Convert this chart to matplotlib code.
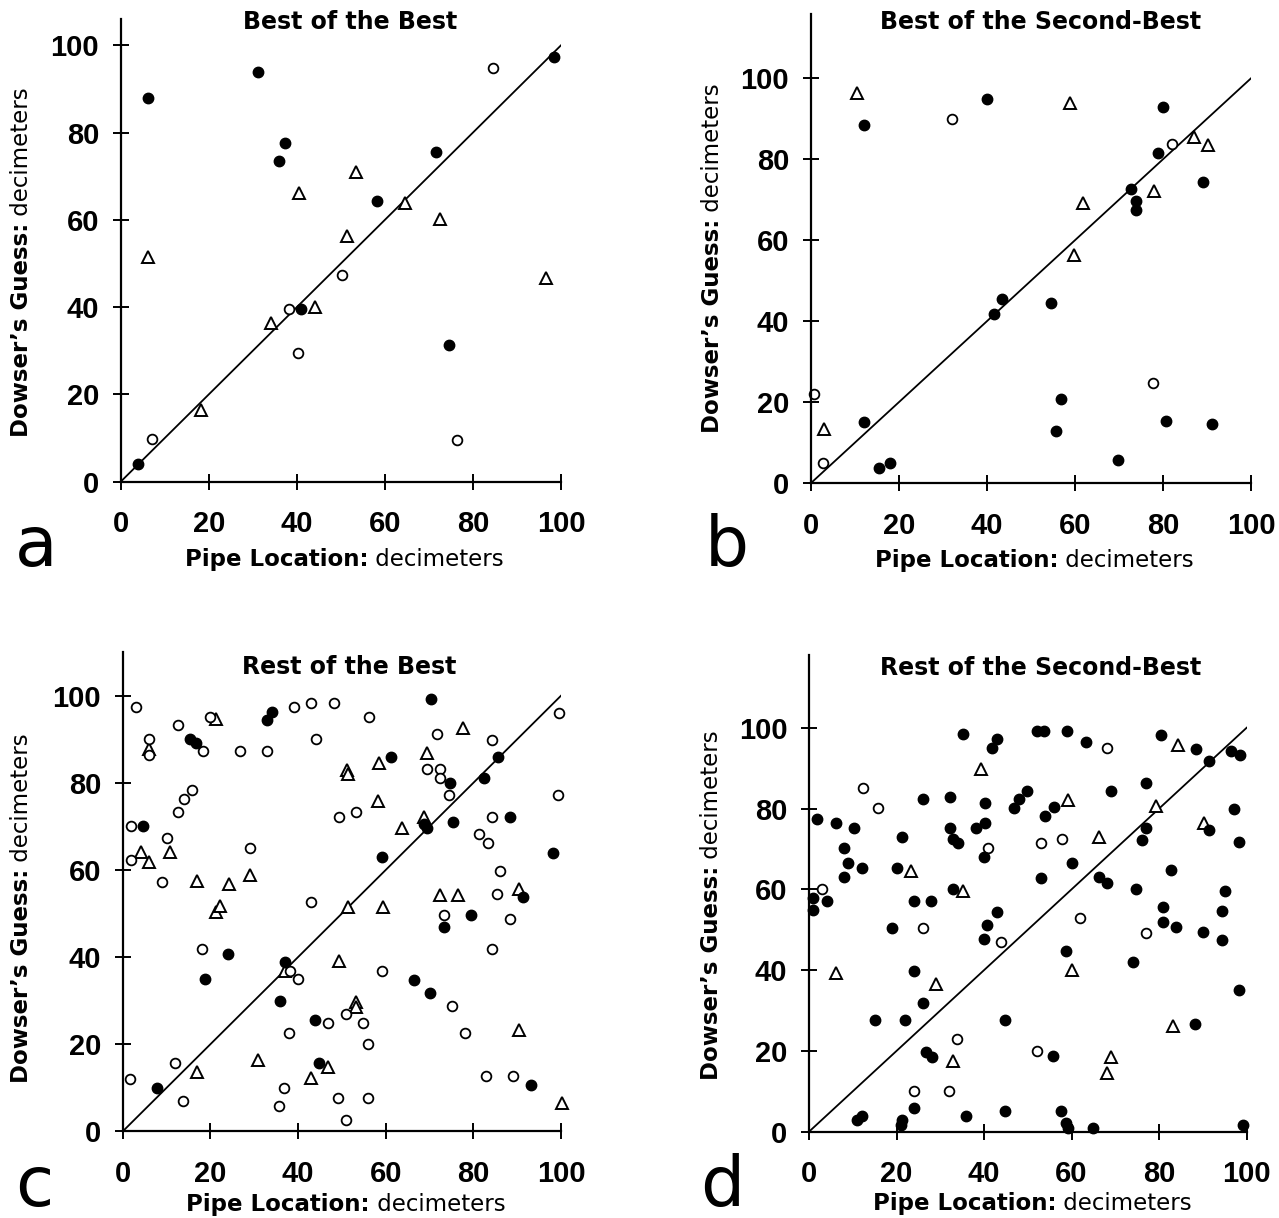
import matplotlib
matplotlib.use("Agg")
import matplotlib.pyplot as plt

# guesses vs. true pipe location, in decimeters
a_solid_x = [4.0, 6.2, 31.1, 36.0, 37.3, 41.0, 58.1, 71.6, 74.5, 98.4]
a_solid_y = [4.0, 87.9, 93.8, 73.6, 77.7, 39.6, 64.3, 75.5, 31.3, 97.4]
a_open_x = [7.0, 38.3, 40.2, 50.2, 76.3, 84.5]
a_open_y = [9.8, 39.6, 29.6, 47.4, 9.5, 94.7]
a_tri_x = [6.3, 18.2, 34.2, 40.4, 44.1, 51.5, 53.4, 64.6, 72.5, 96.7]
a_tri_y = [51.4, 16.4, 36.3, 66.1, 40.1, 56.3, 70.9, 63.9, 60.1, 46.7]

b_solid_x = [12.1, 40.0, 80.1, 78.8, 89.0, 72.7, 73.8, 73.8, 43.5, 41.6,
             54.6, 56.9, 55.6, 69.7, 80.7, 91.1, 12.1, 15.6, 17.9]
b_solid_y = [88.5, 94.9, 93.0, 81.6, 74.5, 72.7, 69.7, 67.5, 45.5, 41.7,
             44.6, 20.8, 12.9, 5.8, 15.4, 14.6, 15.1, 3.8, 4.9]
b_open_x = [32.1, 82.1, 77.7, 0.8, 2.8]
b_open_y = [90.0, 83.8, 24.8, 22.0, 5.0]
b_tri_x = [10.6, 59.0, 87.1, 90.3, 78.0, 61.9, 59.9, 3.0]
b_tri_y = [96.3, 94.0, 85.6, 83.5, 72.2, 69.3, 56.4, 13.4]

c_solid_x = [4.7, 15.4, 16.8, 32.9, 34.1, 70.4, 61.3, 85.7, 74.7, 82.4,
             68.7, 69.4, 75.3, 88.4, 59.1, 98.2, 91.4, 79.5, 73.4, 66.5,
             70.1, 93.1, 24.1, 37.0, 18.8, 35.9, 43.9, 44.9, 7.8]
c_solid_y = [70.0, 90.0, 89.2, 94.4, 96.3, 99.2, 86.0, 86.0, 80.0, 81.0,
             70.5, 69.6, 70.9, 72.2, 63.0, 64.0, 53.7, 49.7, 46.8, 34.7,
             31.7, 10.6, 40.7, 38.8, 34.9, 29.9, 25.6, 15.8, 10.0]
c_open_x = [3.0, 12.7, 19.9, 5.9, 5.9, 18.3, 26.8, 32.9, 39.1, 43.0,
            48.2, 44.0, 15.8, 14.0, 12.7, 49.3, 1.8, 10.1, 1.8, 29.0,
            8.9, 43.0, 56.3, 99.5, 71.6, 84.3, 69.4, 72.4, 72.4, 74.5,
            99.4, 53.2, 84.3, 81.3, 83.3, 86.1, 85.3, 73.4, 88.4, 84.2,
            59.1, 75.2, 54.8, 56.0, 78.1, 82.9, 89.0, 56.0, 18.0, 38.2,
            40.1, 46.9, 50.9, 38.0, 11.9, 1.7, 13.8, 36.8, 35.7, 49.1, 50.9]
c_open_y = [97.5, 93.3, 95.0, 90.1, 86.3, 87.4, 87.4, 87.4, 97.5, 98.3,
            98.3, 90.1, 78.4, 76.3, 73.2, 72.2, 70.0, 67.4, 62.3, 65.0,
            57.2, 52.7, 95.0, 96.1, 91.2, 89.8, 83.1, 83.1, 81.0, 77.2,
            77.2, 73.2, 72.2, 68.2, 66.1, 59.8, 54.6, 49.7, 48.7, 41.8,
            36.8, 28.8, 24.9, 20.0, 22.5, 12.7, 12.7, 7.6, 41.9, 36.8,
            34.9, 24.9, 26.9, 22.5, 15.8, 12.0, 7.0, 9.9, 5.8, 7.6, 2.6]
c_tri_x = [21.3, 6.1, 51.2, 51.5, 4.2, 10.9, 6.1, 17.0, 24.3, 29.1,
           21.3, 22.2, 51.3, 77.7, 69.5, 58.5, 58.3, 68.7, 63.7, 72.4,
           76.6, 90.5, 59.5, 37.0, 49.4, 53.2, 53.2, 30.9, 46.9, 43.0,
           16.9, 90.4, 100.2]
c_tri_y = [94.7, 87.8, 83.0, 82.0, 64.1, 64.1, 61.9, 57.5, 56.8, 58.8,
           50.4, 51.7, 51.6, 92.7, 86.9, 84.6, 75.9, 72.2, 69.6, 54.3,
           54.3, 55.6, 51.6, 36.7, 39.2, 29.8, 28.6, 16.4, 14.8, 12.3,
           13.6, 23.3, 6.6]

d_solid_x = [35.1, 43.0, 41.9, 26.1, 32.2, 40.2, 46.8, 48.0, 49.7, 1.8,
             6.1, 10.3, 21.3, 32.2, 32.9, 34.0, 38.1, 40.2, 40.0, 8.0,
             9.0, 12.2, 8.0, 20.0, 32.8, 0.8, 0.8, 4.0, 24.0, 27.9,
             43.0, 40.7, 18.9, 52.0, 53.7, 59.0, 63.2, 80.4, 88.5, 91.4,
             96.3, 98.4, 68.9, 77.1, 55.9, 54.0, 77.1, 76.0, 97.1, 91.4,
             98.2, 60.0, 52.9, 66.3, 68.0, 82.8, 74.8, 95.1, 80.9, 94.4,
             80.9, 83.9, 90.0, 94.4, 58.8, 74.1, 98.2, 88.2, 55.8, 57.5,
             58.7, 59.2, 64.8, 99.2, 40.0, 24.0, 26.0, 15.1, 21.9, 44.7,
             26.7, 28.0, 24.0, 44.7, 35.8, 10.9, 12.0, 21.2, 21.0]
d_solid_y = [98.4, 97.1, 95.0, 82.3, 82.9, 81.4, 80.2, 82.3, 84.4, 77.3,
             76.5, 75.2, 73.0, 75.2, 72.4, 71.4, 75.2, 76.5, 67.9, 70.1,
             66.4, 65.2, 63.0, 65.2, 60.1, 57.9, 55.0, 57.1, 57.1, 57.1,
             54.3, 51.2, 50.3, 99.3, 99.3, 99.3, 96.4, 98.2, 94.7, 91.8,
             94.3, 93.2, 84.4, 86.4, 80.3, 78.1, 75.2, 72.2, 80.0, 74.7,
             71.8, 66.4, 62.9, 63.1, 61.5, 64.8, 60.1, 59.7, 55.5, 54.6,
             52.0, 50.7, 49.5, 47.5, 44.8, 41.9, 35.1, 26.6, 18.7, 5.1,
             2.2, 1.0, 0.8, 1.7, 47.7, 39.8, 31.8, 27.6, 27.6, 27.6,
             19.8, 18.6, 5.8, 5.1, 3.9, 2.9, 3.9, 2.9, 1.7]
d_open_x = [12.3, 15.8, 40.9, 2.9, 26.0, 68.1, 52.9, 57.7, 61.9, 76.9,
            52.0, 43.8, 33.9, 24.0, 32.0]
d_open_y = [85.0, 80.2, 70.1, 60.1, 50.3, 95.0, 71.4, 72.4, 52.8, 49.1,
            20.0, 47.0, 22.9, 10.1, 10.1]
d_tri_x = [39.2, 23.3, 35.2, 84.4, 59.2, 66.3, 79.2, 90.2, 60.2, 83.1,
           69.1, 68.1, 6.2, 29.1, 32.8]
d_tri_y = [89.7, 64.5, 59.7, 95.7, 82.1, 72.9, 80.6, 76.5, 40.0, 26.2,
           18.6, 14.5, 39.4, 36.5, 17.5]

ticks = [0, 20, 40, 60, 80, 100]

W, H = 1279, 1218
fig = plt.figure(figsize=(W / 100, H / 100), dpi=100)


def fx(px):
    return px / W


def fy(py):
    return 1 - py / H


def panel(left, right, bottom, y100, ytop, solid, hollow, tri,
          title, title_xy, letter, letter_xy, xlab_xy, ylab_xy):
    per = (bottom - y100) / 100.0
    top = bottom - ytop * per
    ax = fig.add_axes([fx(left), fy(bottom), (right - left) / W, (bottom - top) / H])
    ax.set_xlim(0, 100)
    ax.set_ylim(0, ytop)
    for side in ("top", "right"):
        ax.spines[side].set_visible(False)
    for side in ("left", "bottom"):
        ax.spines[side].set_linewidth(1.6)
    ax.set_xticks(ticks)
    ax.set_yticks(ticks)
    ax.tick_params(axis="x", direction="inout", length=11, width=1.4, pad=15, labelsize=21)
    ax.tick_params(axis="y", direction="inout", length=11, width=1.4, pad=10, labelsize=21)
    for lab in ax.get_xticklabels() + ax.get_yticklabels():
        lab.set_fontweight("bold")
        lab.set_family("Liberation Sans")

    ax.plot([0, 100], [0, 100], color="black", lw=1.3)
    ax.plot(tri[0], tri[1], "^", ms=8, mfc="white", mec="black", mew=1.4, clip_on=False)
    ax.plot(hollow[0], hollow[1], "o", ms=7, mfc="white", mec="black", mew=1.3, clip_on=False)
    ax.plot(solid[0], solid[1], "o", ms=7.5, mfc="black", mec="black", clip_on=False)

    fig.text(fx(title_xy[0]), fy(title_xy[1]), title, ha="center", va="center",
             fontsize=17, fontweight="heavy", family="DejaVu Sans")
    fig.text(fx(letter_xy[0]), fy(letter_xy[1]), letter, ha="left", va="baseline",
             fontsize=50, family="DejaVu Sans")

    t1 = fig.text(fx(xlab_xy[0]), fy(xlab_xy[1]), "Pipe Location:", ha="left",
                  va="baseline", fontsize=16.5, fontweight="bold", family="DejaVu Sans")
    ax.annotate(" decimeters", xy=(1, 0), xycoords=t1, ha="left", va="bottom",
                fontsize=16.5, family="DejaVu Sans")

    t2 = fig.text(fx(ylab_xy[0]), fy(ylab_xy[1]), "Dowser\u2019s Guess:", rotation=90,
                  ha="center", va="bottom", fontsize=16.5, fontweight="bold",
                  family="DejaVu Sans")
    ax.annotate(" decimeters", xy=(0.5, 1), xycoords=t2, rotation=90, ha="center",
                va="bottom", fontsize=16.5, family="DejaVu Sans")
    return ax


panel(120.7, 561, 481.7, 45.3, 106,
      (a_solid_x, a_solid_y), (a_open_x, a_open_y), (a_tri_x, a_tri_y),
      "Best of the Best", (350, 22), "a", (15, 566), (185, 566), (22, 437))
panel(810.7, 1251, 483.3, 78.3, 116,
      (b_solid_x, b_solid_y), (b_open_x, b_open_y), (b_tri_x, b_tri_y),
      "Best of the Second-Best", (1041, 22), "b", (705, 566), (875, 567), (712, 433))
panel(122.7, 561, 1131.4, 695.7, 110,
      (c_solid_x, c_solid_y), (c_open_x, c_open_y), (c_tri_x, c_tri_y),
      "Rest of the Best", (349, 667), "c", (15, 1206), (186, 1211), (22, 1083))
panel(809, 1246.7, 1131.7, 727.7, 118,
      (d_solid_x, d_solid_y), (d_open_x, d_open_y), (d_tri_x, d_tri_y),
      "Rest of the Second-Best", (1041, 668), "d", (700, 1206), (873, 1210), (711, 1080))

fig.savefig("out.png", dpi=100)
